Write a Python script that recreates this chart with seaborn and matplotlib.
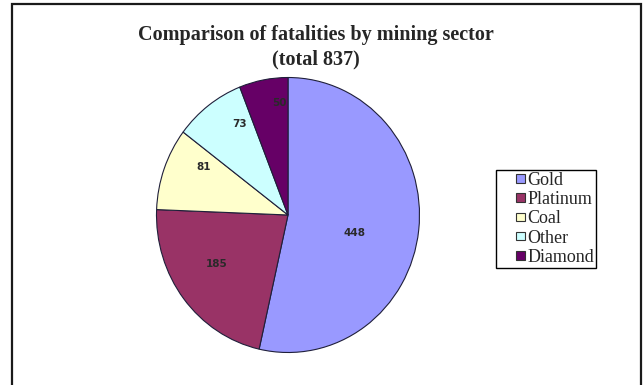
import numpy as np
import matplotlib
matplotlib.use("Agg")
import matplotlib.pyplot as plt
from matplotlib.patches import Rectangle
from matplotlib.legend_handler import HandlerPatch
import seaborn as sns

# Fatalities by mining sector
sectors = ["Gold", "Platinum", "Coal", "Other", "Diamond"]
fatalities = [448, 185, 81, 73, 50]
slice_colors = ["#9999FF", "#993366", "#FFFFCC", "#CCFFFF", "#660066"]
title_lines = ["Comparison of fatalities by mining sector", f"(total {sum(fatalities)})"]

sns.set_theme(style="white")
palette = sns.color_palette(slice_colors)

W, H = 643, 385
fig = plt.figure(figsize=(W / 100, H / 100), dpi=100)
fig.patch.set_facecolor("white")

# chart border
fig.add_artist(Rectangle((12 / W, -0.05), (641 - 12) / W, 1.05 - 4 / H,
                         transform=fig.transFigure, fill=False,
                         edgecolor="#1a1a1a", linewidth=1.6))

# pie area (pixel geometry)
cx, cy, rx, ry = 288, H - 215, 131.5, 137.5
ax = fig.add_axes([(cx - rx) / W, (cy - ry) / H, 2 * rx / W, 2 * ry / H])

wedges, texts = ax.pie(
    fatalities, colors=palette, startangle=90, counterclock=False,
    wedgeprops=dict(edgecolor="#1f1f3a", linewidth=0.8),
)
ax.set_aspect("auto")
ax.set_xlim(-1, 1)
ax.set_ylim(-1, 1)
ax.axis("off")

# value labels inside the slices
label_radius = [0.52, 0.65, 0.73, 0.76, 0.82]
label_shift = [-8, -4, -9, -8, -6]
for w, v, r, s in zip(wedges, fatalities, label_radius, label_shift):
    ang = np.deg2rad((w.theta1 + w.theta2) / 2 + s)
    ax.text(r * np.cos(ang), r * np.sin(ang), str(v), ha="center", va="center",
            fontsize=7.5, fontweight="bold", color="#2a2a2a",
            family="DejaVu Sans")

# title
for line, ypix in zip(title_lines, [35, 59]):
    fig.text(316 / W, 1 - ypix / H, line, ha="center", va="center",
             fontsize=14.5, fontweight="bold", family="Liberation Serif")


# small square legend keys sitting at the right end of the key box
def square_key(legend, orig_handle, xdescent, ydescent, width, height, fontsize):
    s = 8.5 * 72 / 100  # points
    return Rectangle((width - s - xdescent, (height - s) / 2 - ydescent), s, s)


leg = fig.legend(
    wedges, sectors, loc="upper left",
    bbox_to_anchor=(496 / W, 1 - 170 / H),
    prop=dict(family="Liberation Serif", size=13),
    frameon=True, fancybox=False, framealpha=1, edgecolor="black",
    handlelength=1.5, handleheight=0.6, handletextpad=0.15,
    labelspacing=0.125, borderpad=0.1, borderaxespad=0,
    handler_map={w: HandlerPatch(patch_func=square_key) for w in wedges},
)
leg.get_frame().set_linewidth(1.0)
for h in leg.legend_handles:
    h.set_edgecolor("#333333")
    h.set_linewidth(0.8)

fig.savefig("out.png", dpi=100, facecolor="white")
